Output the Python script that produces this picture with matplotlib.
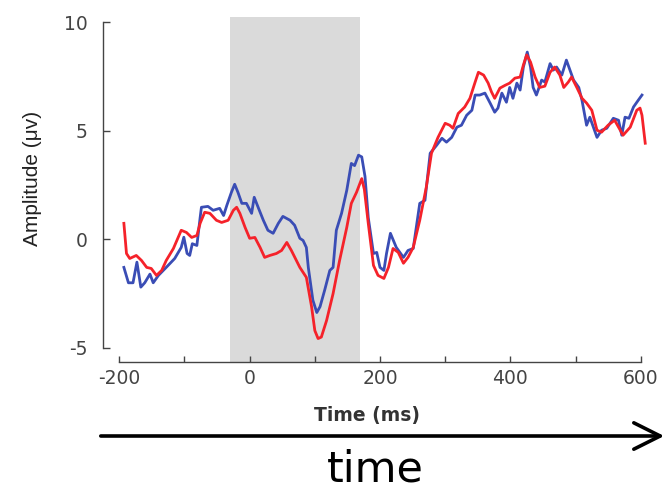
import matplotlib
matplotlib.use('Agg')
from matplotlib import pyplot as plt
from matplotlib import font_manager
from matplotlib.patches import FancyArrowPatch

# ERP traces (time in ms, amplitude in microvolts)
blue_t = [-193, -186, -179, -173, -167, -161, -153, -148, -140, -128, -115, -105, -101, -96, -92,
          -88, -81, -76, -74, -64, -56, -46, -40, -35, -28, -23, -18, -12, -5, 3, 7, 13, 21, 28,
          36, 44, 51, 62, 69, 77, 82, 87, 90, 97, 103, 108, 115, 123, 128, 133, 141, 149, 156,
          161, 167, 172, 177, 182, 190, 195, 200, 206, 210, 216, 225, 236, 243, 251, 261, 269,
          277, 287, 295, 302, 310, 318, 325, 333, 341, 346, 353, 361, 369, 376, 381, 387, 394,
          399, 404, 410, 415, 420, 426, 431, 435, 440, 448, 453, 461, 466, 471, 479, 486, 497,
          505, 510, 517, 522, 533, 540, 548, 558, 566, 571, 576, 582, 589, 596, 602]
blue_v = [-1.29, -2.0, -2.0, -1.05, -2.2, -2.0, -1.6, -2.0, -1.66, -1.29, -0.88, -0.37, 0.1, -0.65,
          -0.74, -0.2, -0.28, 1.0, 1.48, 1.52, 1.34, 1.43, 1.1, 1.57, 2.17, 2.54, 2.17, 1.66, 1.66,
          1.2, 1.94, 1.48, 0.88, 0.42, 0.28, 0.74, 1.06, 0.88, 0.65, 0.05, -0.05, -0.37, -1.29,
          -2.8, -3.37, -3.1, -2.35, -1.43, -1.29, 0.42, 1.2, 2.26, 3.5, 3.4, 3.88, 3.8, 2.9, 1.0,
          -0.65, -0.6, -1.29, -1.43, -0.65, 0.28, -0.37, -0.83, -0.51, -0.42, 1.66, 1.8, 3.97,
          4.34, 4.66, 4.48, 4.7, 5.17, 5.26, 5.72, 5.95, 6.65, 6.65, 6.74, 6.28, 5.86, 6.05, 6.74,
          6.32, 7.0, 6.5, 7.2, 6.88, 7.94, 8.63, 7.94, 7.0, 6.65, 7.34, 7.25, 8.1, 7.8, 7.94, 7.57,
          8.26, 7.34, 7.0, 6.4, 5.26, 5.63, 4.7, 5.03, 5.12, 5.58, 5.49, 4.8, 5.63, 5.58, 6.1,
          6.4, 6.65]

red_t = [-193, -189, -184, -174, -166, -158, -151, -143, -135, -128, -117, -105, -97, -89, -81,
         -76, -69, -61, -51, -43, -33, -25, -20, -15, -7, 0, 8, 16, 23, 31, 41, 49, 57, 64, 77,
         87, 95, 100, 105, 110, 118, 128, 138, 149, 156, 164, 172, 176, 182, 190, 197, 206, 213,
         220, 228, 236, 243, 251, 261, 271, 279, 289, 300, 307, 312, 320, 330, 338, 346, 351,
         359, 366, 371, 376, 384, 392, 399, 407, 415, 420, 425, 431, 438, 445, 453, 461, 468,
         476, 482, 489, 494, 502, 510, 517, 525, 533, 540, 550, 560, 573, 584, 594, 599, 602, 607]
red_v = [0.74, -0.65, -0.88, -0.74, -0.97, -1.29, -1.34, -1.66, -1.43, -0.97, -0.42, 0.42, 0.32,
         0.09, 0.18, 0.74, 1.25, 1.2, 0.88, 0.78, 0.88, 1.34, 1.48, 1.2, 0.55, 0.05, 0.09, -0.37,
         -0.83, -0.74, -0.65, -0.51, -0.14, -0.51, -1.29, -1.75, -3.1, -4.2, -4.57, -4.5, -3.74,
         -2.5, -0.97, 0.55, 1.66, 2.17, 2.8, 2.3, 0.74, -1.2, -1.66, -1.8, -1.29, -0.42, -0.6,
         -1.1, -0.83, -0.37, 0.88, 2.4, 3.97, 4.7, 5.35, 5.26, 5.12, 5.8, 6.1, 6.5, 7.25, 7.7,
         7.57, 7.2, 6.8, 6.5, 6.97, 7.1, 7.2, 7.43, 7.48, 8.03, 8.5, 8.17, 7.48, 7.0, 7.06, 7.7,
         7.94, 7.57, 7.0, 7.25, 7.48, 7.0, 6.5, 6.28, 5.95, 5.03, 4.94, 5.26, 5.49, 4.8, 5.17,
         5.95, 6.05, 5.72, 4.43]

window = (-30, 170)          # shaded stimulus window (ms)
x_major = [-200, 0, 200, 400, 600]
x_labels = ['-200', '0', '200', '400', '600']
x_minor = [-100, 100, 300, 500]
y_ticks = [-5, 0, 5, 10]
y_labels = ['-5', '0', '5', '10']


def main():
    fig = plt.figure(figsize=(6.69, 4.92), dpi=100)
    ax = fig.add_axes([0.154, 0.2642, 0.8134, 0.7014])

    ax.axvspan(*window, color='#dadada', lw=0, zorder=0)
    ax.plot(blue_t, blue_v, color='#3a4db5', lw=2.0, solid_joinstyle='round')
    ax.plot(red_t, red_v, color='#f5222a', lw=2.0, solid_joinstyle='round')

    ax.set_xlim(-225, 610)
    ax.set_ylim(-5.65, 10.25)

    for side in ('top', 'right'):
        ax.spines[side].set_visible(False)
    ax.spines['left'].set_bounds(-5, 10)
    ax.spines['bottom'].set_bounds(-200, 600)
    for side in ('left', 'bottom'):
        ax.spines[side].set_color('#444444')
        ax.spines[side].set_linewidth(1.0)

    ax.set_xticks(x_major)
    ax.set_xticklabels(x_labels)
    ax.set_xticks(x_minor, minor=True)
    ax.set_yticks(y_ticks)
    ax.set_yticklabels(y_labels)
    ax.tick_params(axis='x', which='both', direction='in', length=4, width=1.0,
                   color='#444444', pad=5, labelsize=13.5, labelcolor='#444444')
    ax.tick_params(axis='y', direction='in', length=5, width=1.0,
                   color='#444444', pad=11, labelsize=13.5, labelcolor='#444444')

    ax.set_xlabel('Time (ms)', fontsize=13.5, fontweight='bold', color='#333333')
    ax.xaxis.set_label_coords(0.486, -0.128)

    # narrow font for the rotated label if it is there
    names = {f.name for f in font_manager.fontManager.ttflist}
    if 'Liberation Sans Narrow' in names:
        ylab_font, ylab_size = 'Liberation Sans Narrow', 18
    else:
        ylab_font, ylab_size = 'Liberation Sans', 15
    ax.set_ylabel('Amplitude (\u03bcv)', fontsize=ylab_size, color='#222222',
                  family=[ylab_font, 'DejaVu Sans'])
    ax.yaxis.set_label_coords(-0.113, 0.532)

    arrow = FancyArrowPatch((98 / 669, 56 / 492), (667 / 669, 56 / 492),
                            transform=fig.transFigure,
                            arrowstyle='->,head_length=1.9,head_width=0.95',
                            mutation_scale=10, lw=2.6, color='black')
    fig.add_artist(arrow)
    fig.text(375 / 669, 10.5 / 492, 'time', fontsize=31, ha='center', va='baseline')

    fig.savefig('out.png', dpi=100)


if __name__ == '__main__':
    main()
